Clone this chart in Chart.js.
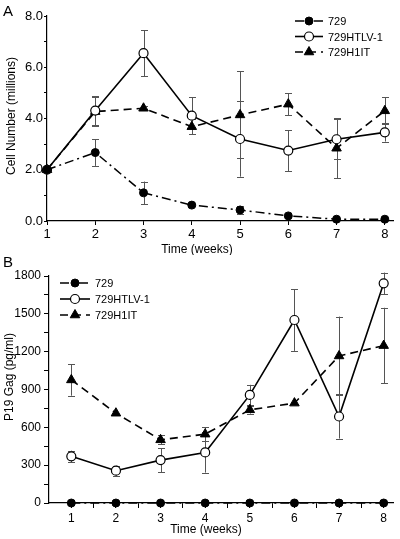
<!DOCTYPE html>
<html>
<head>
<meta charset="utf-8">
<script src="https://cdn.jsdelivr.net/npm/chart.js"></script>
<style>
  body { margin: 0; background: #fff; }
  #wrap { position: relative; width: 400px; height: 539px; }
  .panel { position: absolute; left: 0; width: 400px; }
</style>
</head>
<body>
<div id="wrap">
  <div class="panel" style="top:0;height:255px"><canvas id="chartA" width="400" height="255"></canvas></div>
  <div class="panel" style="top:255px;height:284px"><canvas id="chartB" width="400" height="284"></canvas></div>
</div>
<script>
// dados
const weeks = [1, 2, 3, 4, 5, 6, 7, 8];
const seriesNames = ['729', '729HTLV-1', '729H1IT'];

// painel A - número de células (milhões)
const cells729 = [2.0, 2.67, 1.1, 0.62, 0.43, 0.2, 0.07, 0.07];
const cells729Err = [0, 0.52, 0.44, 0.05, 0.16, 0, 0, 0];
const cellsHTLV = [2.0, 4.31, 6.55, 4.11, 3.2, 2.75, 3.19, 3.46];
const cellsHTLVErr = [0, 0.55, 0.9, 0.72, 1.47, 0.8, 0.78, 0.36];
const cellsH1IT = [2.0, 4.27, 4.4, 3.68, 4.14, 4.56, 2.84, 4.3];
const cellsH1ITErr = [0, 0.55, 0.08, 0.3, 1.7, 0.43, 1.17, 0.52];

// painel B - P19 Gag (pg/ml)
const gag729 = [0, 0, 0, 0, 0, 0, 0, 0];
const gagHTLV = [370, 256, 340, 401, 857, 1451, 686, 1742];
const gagHTLVErr = [45, 40, 95, 160, 80, 245, 175, 85];
const gagH1IT = [976, 712, 501, 546, 739, 792, 1166, 1248];
const gagH1ITErr = [125, 0, 35, 55, 30, 0, 312, 300];

// ticks
const cellTicks = [0, 1, 2, 3, 4, 5, 6, 7, 8];
const cellTickLabels = ['0.0', '', '2.0', '', '4.0', '', '6.0', '', '8.0'];
const gagTicks = [0, 150, 300, 450, 600, 750, 900, 1050, 1200, 1350, 1500, 1650, 1800];
const gagTickLabels = ['0', '', '300', '', '600', '', '900', '', '1200', '', '1500', '', '1800'];
const weekTicksA = [1, 2, 3, 4, 5, 6, 7, 8];
const weekTicksB = [1, 1.5, 2, 2.5, 3, 3.5, 4, 4.5, 5, 5.5, 6, 6.5, 7, 7.5, 8];

const FONT = "'Liberation Sans', Arial, sans-serif";

function points(ys) {
    return weeks.map((w, i) => ({ x: w, y: ys[i] }));
}

// estilos das séries
function makeDatasets(v729, vHTLV, eHTLV, vH1IT, eH1IT, e729) {
    return [{
        label: seriesNames[0],
        data: points(v729),
        errors: e729,
        borderColor: '#000',
        backgroundColor: '#000',
        borderWidth: 1.5,
        borderDash: [9, 4, 2, 4],
        pointStyle: 'circle',
        pointRadius: 4,
        pointBackgroundColor: '#000',
        pointBorderColor: '#000',
        pointBorderWidth: 1,
        clip: false
    }, {
        label: seriesNames[1],
        data: points(vHTLV),
        errors: eHTLV,
        borderColor: '#000',
        backgroundColor: '#fff',
        borderWidth: 1.6,
        pointStyle: 'circle',
        pointRadius: 4.5,
        pointBackgroundColor: '#fff',
        pointBorderColor: '#000',
        pointBorderWidth: 1.2,
        clip: false
    }, {
        label: seriesNames[2],
        data: points(vH1IT),
        errors: eH1IT,
        borderColor: '#000',
        backgroundColor: '#000',
        borderWidth: 1.6,
        borderDash: [8, 5],
        pointStyle: 'triangle',
        pointRadius: 5.5,
        pointBackgroundColor: '#000',
        pointBorderColor: '#000',
        pointBorderWidth: 1,
        clip: false
    }];
}

// barras de erro desenhadas antes das linhas
const errorBars = {
    id: 'errorBars',
    beforeDatasetsDraw(chart) {
        const { ctx, scales: { x, y } } = chart;
        ctx.save();
        ctx.strokeStyle = '#555';
        ctx.lineWidth = 1;
        chart.data.datasets.forEach(ds => {
            if (!ds.errors) return;
            ds.data.forEach((p, j) => {
                const e = ds.errors[j];
                if (!e) return;
                const px = Math.round(x.getPixelForValue(p.x)) + 0.5;
                const top = y.getPixelForValue(p.y + e);
                const bot = y.getPixelForValue(p.y - e);
                ctx.beginPath();
                ctx.moveTo(px, top); ctx.lineTo(px, bot);
                ctx.moveTo(px - 3.5, Math.round(top) + 0.5); ctx.lineTo(px + 3.5, Math.round(top) + 0.5);
                ctx.moveTo(px - 3.5, Math.round(bot) + 0.5); ctx.lineTo(px + 3.5, Math.round(bot) + 0.5);
                ctx.stroke();
            });
        });
        ctx.restore();
    }
};

// legenda com linha + marcador
const lineLegend = {
    id: 'lineLegend',
    afterDraw(chart, args, opts) {
        const ctx = chart.ctx;
        ctx.save();
        chart.data.datasets.forEach((ds, i) => {
            const yy = opts.y + i * opts.spacing;
            ctx.strokeStyle = ds.borderColor;
            ctx.lineWidth = ds.borderWidth;
            ctx.setLineDash(ds.borderDash || []);
            ctx.beginPath();
            ctx.moveTo(opts.x, yy);
            ctx.lineTo(opts.x + opts.len, yy);
            ctx.stroke();
            ctx.setLineDash([]);
            ctx.fillStyle = ds.pointBackgroundColor;
            ctx.strokeStyle = ds.pointBorderColor;
            ctx.lineWidth = ds.pointBorderWidth;
            Chart.helpers.drawPoint(ctx, {
                pointStyle: ds.pointStyle,
                radius: ds.pointRadius,
                rotation: 0,
                borderWidth: ds.pointBorderWidth
            }, opts.x + opts.len / 2, yy);
            ctx.fillStyle = '#000';
            ctx.font = opts.font;
            ctx.textBaseline = 'middle';
            ctx.textAlign = 'left';
            ctx.fillText(ds.label, opts.x + opts.len + 5, yy + 1);
        });
        ctx.restore();
    }
};

// títulos dos eixos e letra do painel
const panelText = {
    id: 'panelText',
    afterDraw(chart, args, opts) {
        const ctx = chart.ctx;
        ctx.save();
        ctx.fillStyle = '#000';
        ctx.font = opts.letterFont;
        ctx.textAlign = 'left';
        ctx.textBaseline = 'alphabetic';
        ctx.fillText(opts.letter, opts.letterX, opts.letterY);
        ctx.font = opts.titleFont;
        ctx.textAlign = 'center';
        ctx.textBaseline = 'middle';
        ctx.fillText(opts.xTitle, opts.xTitleX, opts.xTitleY);
        ctx.translate(opts.yTitleX, opts.yTitleY);
        ctx.rotate(-Math.PI / 2);
        ctx.fillText(opts.yTitle, 0, 0);
        ctx.restore();
    }
};

function axisGrid(len) {
    return { display: true, drawOnChartArea: false, drawTicks: true, tickLength: len, color: '#000', lineWidth: 1 };
}

// Painel A
new Chart(document.getElementById('chartA'), {
    type: 'line',
    data: { datasets: makeDatasets(cells729, cellsHTLV, cellsHTLVErr, cellsH1IT, cellsH1ITErr, cells729Err) },
    options: {
        responsive: false,
        animation: false,
        layout: { padding: { top: 16, right: 1, left: 0, bottom: 0 } },
        plugins: {
            legend: { display: false },
            tooltip: { enabled: false },
            lineLegend: { x: 295, y: 21, spacing: 15.5, len: 28, font: '11px ' + FONT },
            panelText: {
                letter: 'A', letterX: 3, letterY: 16, letterFont: '15px ' + FONT,
                xTitle: 'Time (weeks)', xTitleX: 197, xTitleY: 250,
                yTitle: 'Cell Number (millions)', yTitleX: 12, yTitleY: 116,
                titleFont: '12px ' + FONT
            }
        },
        scales: {
            x: {
                type: 'linear', min: 1, max: 8.18,
                afterBuildTicks: s => { s.ticks = weekTicksA.map(v => ({ value: v })); },
                afterFit: s => { s.height = 34; },
                grid: axisGrid(4),
                border: { display: true, color: '#000', width: 1.2 },
                ticks: { autoSkip: false, maxRotation: 0, padding: 2, color: '#000', font: { family: FONT, size: 13 },
                    callback: v => String(v) }
            },
            y: {
                type: 'linear', min: 0, max: 8,
                afterBuildTicks: s => { s.ticks = cellTicks.map(v => ({ value: v })); },
                afterFit: s => { s.width = 47; },
                grid: axisGrid(3),
                border: { display: true, color: '#000', width: 1.2 },
                ticks: { autoSkip: false, padding: 1, color: '#000', font: { family: FONT, size: 13 },
                    callback: v => cellTickLabels[cellTicks.indexOf(v)] }
            }
        }
    },
    plugins: [errorBars, lineLegend, panelText]
});

// Painel B
new Chart(document.getElementById('chartB'), {
    type: 'line',
    data: { datasets: makeDatasets(gag729, gagHTLV, gagHTLVErr, gagH1IT, gagH1ITErr, null) },
    options: {
        responsive: false,
        animation: false,
        layout: { padding: { top: 21, right: 1, left: 0, bottom: 0 } },
        plugins: {
            legend: { display: false },
            tooltip: { enabled: false },
            lineLegend: { x: 60, y: 28, spacing: 16, len: 30, font: '11px ' + FONT },
            panelText: {
                letter: 'B', letterX: 3, letterY: 12, letterFont: '15px ' + FONT,
                xTitle: 'Time (weeks)', xTitleX: 206, xTitleY: 275,
                yTitle: 'P19 Gag (pg/ml)', yTitleX: 10, yTitleY: 122,
                titleFont: '12px ' + FONT
            }
        },
        scales: {
            x: {
                type: 'linear', min: 0.5, max: 8.22,
                afterBuildTicks: s => { s.ticks = weekTicksB.map(v => ({ value: v })); },
                afterFit: s => { s.height = 36; },
                grid: axisGrid(5),
                border: { display: true, color: '#000', width: 1.2 },
                ticks: { autoSkip: false, maxRotation: 0, padding: 3, color: '#000', font: { family: FONT, size: 12 },
                    callback: v => (Number.isInteger(v) ? String(v) : '') }
            },
            y: {
                type: 'linear', min: 0, max: 1800,
                afterBuildTicks: s => { s.ticks = gagTicks.map(v => ({ value: v })); },
                afterFit: s => { s.width = 49; },
                grid: axisGrid(5),
                border: { display: true, color: '#000', width: 1.2 },
                ticks: { autoSkip: false, padding: 3, color: '#000', font: { family: FONT, size: 12 },
                    callback: v => gagTickLabels[gagTicks.indexOf(v)] }
            }
        }
    },
    plugins: [errorBars, lineLegend, panelText]
});
</script>
</body>
</html>
